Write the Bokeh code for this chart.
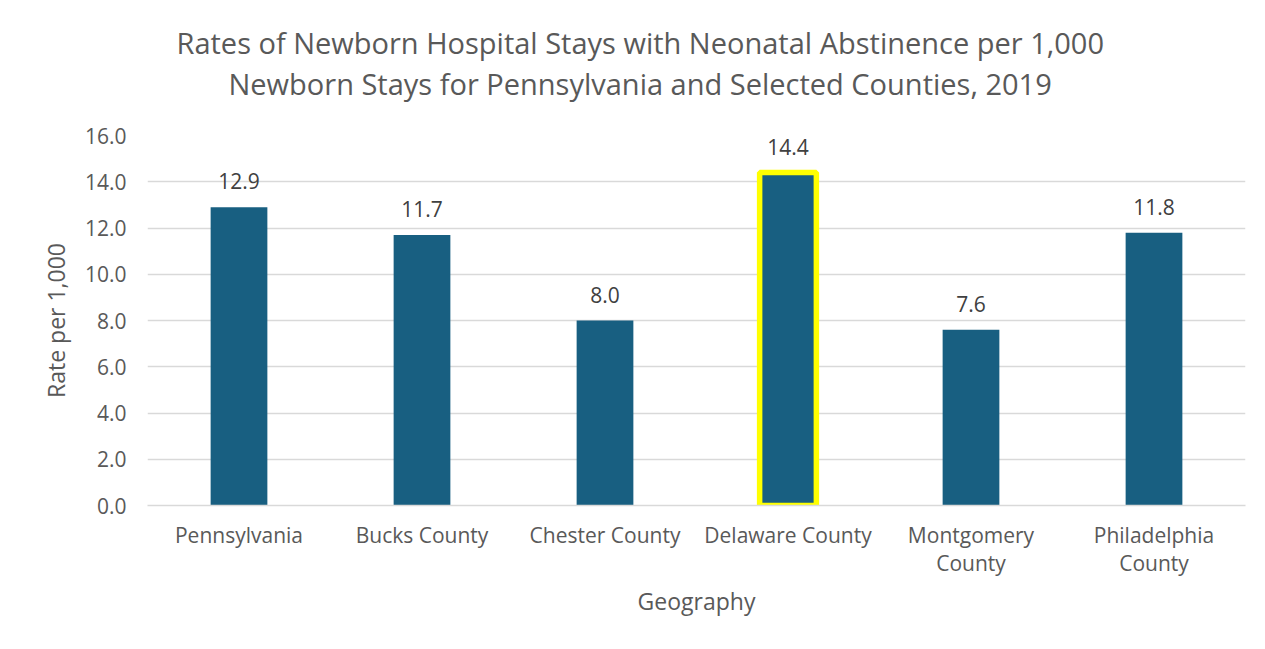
from bokeh.plotting import figure
from bokeh.models import ColumnDataSource, Range1d, FixedTicker, CustomJSTickFormatter, Title
from bokeh.core.properties import value
from bokeh.embed import file_html
from bokeh.resources import INLINE

categories = ["Pennsylvania", "Bucks County", "Chester County", "Delaware County",
              "Montgomery County", "Philadelphia County"]
tick_labels = ["Pennsylvania", "Bucks County", "Chester County", "Delaware County",
               "Montgomery\nCounty", "Philadelphia\nCounty"]
rates = [12.9, 11.7, 8.0, 14.4, 7.6, 11.8]
rate_labels = ["12.9", "11.7", "8.0", "14.4", "7.6", "11.8"]
highlighted = "Delaware County"
y_ticks = [0, 2, 4, 6, 8, 10, 12, 14, 16]
title_lines = ["Rates of Newborn Hospital Stays with Neonatal Abstinence per 1,000",
               "Newborn Stays for Pennsylvania and Selected Counties, 2019"]

FONT = "Open Sans"
BAR = "#185F81"
GREY_TXT = "#595959"
GRID = "#D9D9D9"

p = figure(x_range=tick_labels, width=1265, height=649, output_backend="svg",
           toolbar_location=None, min_border_left=147, min_border_right=20,
           min_border_top=135, min_border_bottom=144)
p.y_range = Range1d(0, 16)

src = ColumnDataSource(dict(cat=tick_labels, rate=rates, lab=rate_labels,
                            lc=["#FFFF00" if c == highlighted else None for c in categories],
                            lw=[5.5 if c == highlighted else 0 for c in categories]))
p.vbar(x="cat", top="rate", width=0.31, source=src, fill_color=BAR,
       line_color="lc", line_width="lw")
p.text(x="cat", y="rate", text="lab", source=src, y_offset=-26,
       text_align="center", text_baseline="middle", text_font=value(FONT),
       text_font_size="21px", text_color="#404040")

p.outline_line_color = None
p.background_fill_color = "white"
p.border_fill_color = "white"
p.xgrid.grid_line_color = None
p.ygrid.grid_line_color = GRID
p.ygrid.grid_line_width = 1.5
p.yaxis.ticker = FixedTicker(ticks=y_ticks)
p.yaxis.formatter = CustomJSTickFormatter(code="return tick.toFixed(1)")
p.yaxis.axis_line_color = None
p.yaxis.major_tick_line_color = None
p.yaxis.minor_tick_line_color = None
p.yaxis.major_label_standoff = 15
p.yaxis.axis_label = "Rate per 1,000"
p.yaxis.axis_label_standoff = 10

p.xaxis.axis_line_color = GRID
p.xaxis.axis_line_width = 1.5
p.xaxis.major_tick_line_color = None
p.xaxis.major_label_standoff = 9
p.xaxis.major_label_text_line_height = 1.0
p.xaxis.axis_label = "Geography"
p.xaxis.axis_label_standoff = 5

for ax in (p.xaxis[0], p.yaxis[0]):
    ax.major_label_text_font = FONT
    ax.major_label_text_font_size = "21px"
    ax.major_label_text_color = GREY_TXT
    ax.axis_label_text_font = FONT
    ax.axis_label_text_font_size = "23px"
    ax.axis_label_text_font_style = "normal"
    ax.axis_label_text_color = GREY_TXT

# spacer between the frame and the two title lines
p.add_layout(Title(text=" ", text_font_size="1px", standoff=30), "above")
# second line first: it sits nearest to the frame
for txt, off in [(title_lines[1], 81), (title_lines[0], 29)]:
    p.add_layout(Title(text=txt, align="left", offset=off, text_font=FONT,
                       text_font_size="29px", text_font_style="normal",
                       text_color=GREY_TXT, standoff=0), "above")

open("out.html", "w").write(file_html(p, INLINE))
